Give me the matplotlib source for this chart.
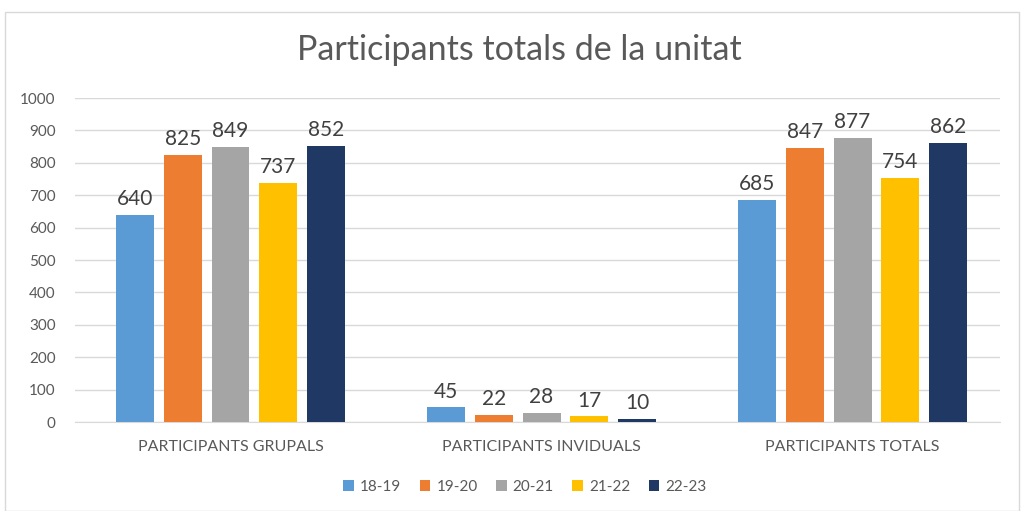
import matplotlib
matplotlib.use("Agg")
import matplotlib.pyplot as plt
import numpy as np
from matplotlib.patches import Rectangle

categories = ["PARTICIPANTS GRUPALS", "PARTICIPANTS INVIDUALS", "PARTICIPANTS TOTALS"]
series_names = ["18-19", "19-20", "20-21", "21-22", "22-23"]
values = {
    "18-19": [640, 45, 685],
    "19-20": [825, 22, 847],
    "20-21": [849, 28, 877],
    "21-22": [737, 17, 754],
    "22-23": [852, 10, 862],
}
colors = ["#5B9BD5", "#ED7D31", "#A5A5A5", "#FFC000", "#203864"]
yticks = [0, 100, 200, 300, 400, 500, 600, 700, 800, 900, 1000]

plt.rcParams['font.family'] = ['Lato', 'DejaVu Sans']

fig = plt.figure(figsize=(10.22, 5.11), dpi=100)
fig.patches.append(Rectangle((5/1022, 0.0), 1014/1022, 1-12/511, transform=fig.transFigure,
                             fill=False, edgecolor="#D9D9D9", linewidth=1.0))
ax = fig.add_axes([75/1022, 1-422/511, 925/1022, 324/511])

x = np.arange(len(categories))
step = 0.1535
width = 0.122
for i, (name, c) in enumerate(zip(series_names, colors)):
    pos = x + (i - 2) * step
    bars = ax.bar(pos, values[name], width=width, color=c, label=name, zorder=3)
    for b, v in zip(bars, values[name]):
        ax.text(b.get_x() + b.get_width()/2, v + 18, str(v), ha="center", va="bottom",
                fontsize=15, color="#404040")

ax.set_ylim(0, 1000)
ax.set_xlim(-0.5, 2.474)
ax.set_yticks(yticks)
ax.set_yticklabels([str(t) for t in yticks], fontsize=11, color="#595959")
ax.set_xticks(x)
ax.set_xticklabels(categories, fontsize=11.5, color="#595959")
ax.tick_params(axis="x", length=0, pad=13)
ax.tick_params(axis="y", length=0, pad=14)
ax.grid(axis="y", color="#D9D9D9", linewidth=1, zorder=0)
for s in ["top", "right", "left"]:
    ax.spines[s].set_visible(False)
ax.spines["bottom"].set_color("#D9D9D9")

fig.text(519/1022, 1-50/511, "Participants totals de la unitat", ha="center", va="center",
         fontsize=24.5, color="#595959")

leg = fig.legend(loc="center", bbox_to_anchor=(525/1022, 1-487/511), ncol=5, frameon=False,
                 fontsize=11, handlelength=0.7, handleheight=0.7, columnspacing=1.2,
                 handletextpad=0.4)
for t in leg.get_texts():
    t.set_color("#595959")

fig.savefig("out.png", dpi=100)
